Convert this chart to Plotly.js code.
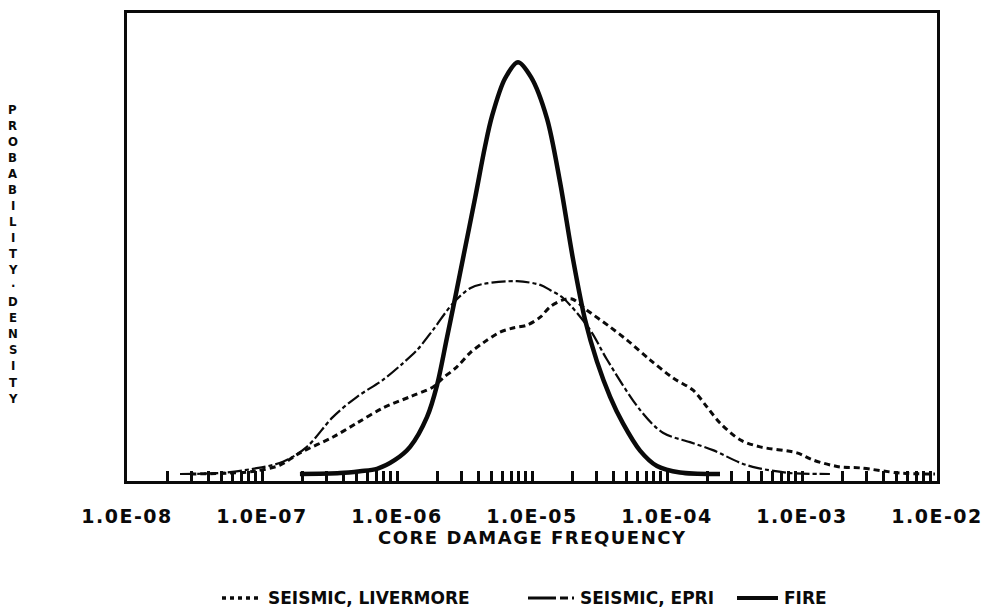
<!DOCTYPE html>
<html>
<head>
<meta charset="utf-8">
<script src="https://cdn.plot.ly/plotly-3.0.1.min.js"></script>
<style>
  html, body { margin: 0; padding: 0; background: #fff; }
  #chart { width: 990px; height: 616px; }
</style>
</head>
<body>
<div id="chart"></div>
<script>
// ---- data ----
const decades = [1e-8, 1e-7, 1e-6, 1e-5, 1e-4, 1e-3, 1e-2];
const decadeLabels = ['1.0E-08', '1.0E-07', '1.0E-06', '1.0E-05', '1.0E-04', '1.0E-03', '1.0E-02'];
const minorMultipliers = [2, 3, 4, 5, 6, 7, 8, 9];

const seriesNames = ['SEISMIC, LIVERMORE', 'SEISMIC, EPRI', 'FIRE'];

const livermoreX = [2.93e-8, 5.79e-8, 8.87e-8, 1.36e-7, 1.91e-7, 3.36e-7, 5.06e-7, 7.87e-7, 1.25e-6, 1.85e-6,
  2.19e-6, 2.78e-6, 3.48e-6, 4.34e-6, 5.79e-6, 7.23e-6, 9.18e-6, 1.15e-5, 1.36e-5, 1.70e-5,
  1.98e-5, 2.55e-5, 3.79e-5, 5.06e-5, 7.48e-5, 1.11e-4, 1.56e-4, 1.98e-4, 2.47e-4, 3.48e-4,
  4.89e-4, 9.18e-4, 1.20e-3, 1.91e-3, 2.69e-3, 5.32e-3, 9.66e-3];
const livermoreY = [0, 0.002, 0.006, 0.019, 0.045, 0.079, 0.109, 0.141, 0.165, 0.186,
  0.205, 0.229, 0.259, 0.280, 0.303, 0.312, 0.318, 0.335, 0.357, 0.372,
  0.374, 0.350, 0.314, 0.286, 0.244, 0.205, 0.179, 0.143, 0.109, 0.073,
  0.058, 0.045, 0.030, 0.015, 0.013, 0.002, 0];

const epriX = [2.47e-8, 4.89e-8, 8.57e-8, 1.43e-7, 2.15e-7, 3.36e-7, 5.06e-7, 7.87e-7, 1.11e-6, 1.41e-6,
  1.85e-6, 2.60e-6, 3.48e-6, 4.34e-6, 7.74e-6, 1.15e-5, 1.36e-5, 1.70e-5, 2.69e-5, 3.60e-5,
  6.31e-5, 9.33e-5, 1.48e-4, 2.19e-4, 3.48e-4, 4.64e-4, 8.15e-4, 1.61e-3];
const epriY = [0, 0.002, 0.011, 0.026, 0.058, 0.122, 0.165, 0.201, 0.237, 0.265,
  0.308, 0.365, 0.397, 0.406, 0.412, 0.404, 0.393, 0.376, 0.308, 0.244,
  0.137, 0.088, 0.068, 0.051, 0.024, 0.013, 0.002, 0];

const fireX = [1.91e-7, 3.79e-7, 5.32e-7, 7.11e-7, 9.66e-7, 1.25e-6, 1.67e-6, 1.98e-6, 2.34e-6, 2.69e-6,
  3.08e-6, 3.79e-6, 4.49e-6, 5.06e-6, 6.31e-6, 7.87e-6, 9.84e-6, 1.29e-5, 1.61e-5, 2.01e-5,
  2.47e-5, 3.03e-5, 3.79e-5, 4.72e-5, 6.31e-5, 8.43e-5, 1.25e-4, 2.47e-4];
const fireY = [0, 0.002, 0.006, 0.011, 0.030, 0.058, 0.122, 0.190, 0.290, 0.375,
  0.460, 0.590, 0.700, 0.765, 0.845, 0.880, 0.848, 0.760, 0.625, 0.460,
  0.330, 0.240, 0.165, 0.108, 0.050, 0.017, 0.003, 0];

const yTitle = 'PROBABILITY·DENSITY';
const xTitle = 'CORE DAMAGE FREQUENCY';

// ---- build ticks ----
const SPACED = t => '<span style="letter-spacing:1.5px">' + t + '</span>';
const tickVals = [];
const tickText = [];
decades.forEach((d, i) => {
  tickVals.push(d); tickText.push(SPACED(decadeLabels[i]));
  if (i < decades.length - 1) {
    minorMultipliers.forEach(m => { tickVals.push(m * d); tickText.push(''); });
  }
});

const FONT = 'DejaVu Sans, Liberation Sans, Arial, sans-serif';
const INK = '#0a0a0a';

const lineStyles = [
  { color: INK, width: 3, dash: '6px,4px' },
  { color: INK, width: 2.2, dash: '14px,3px,4px,3px' },
  { color: INK, width: 4.5 }
];
const xs = [livermoreX, epriX, fireX];
const ys = [livermoreY, epriY, fireY];

const traces = xs.map((x, i) => ({
  x: x, y: ys[i], name: seriesNames[i], type: 'scatter', mode: 'lines',
  line: Object.assign({ shape: 'spline', smoothing: 0.9 }, lineStyles[i]),
  showlegend: false
}));

// pixel helpers for layout placement (plot area 127..937 x 13..481)
const PL = 127, PW = 810, PT = 13, PH = 468;
const px2x = p => (p - PL) / PW;
const px2y = p => (PT + PH - p) / PH;

const annotations = [];
const shapes = [];

// stacked y title letters
Array.from(yTitle).forEach((c, i) => {
  annotations.push({
    text: c, xref: 'paper', yref: 'paper', x: px2x(13), y: px2y(109 + i * 16.06),
    xanchor: 'center', yanchor: 'middle', showarrow: false,
    font: { family: 'DejaVu Sans Condensed, Liberation Sans Narrow, DejaVu Sans, sans-serif', size: 13, weight: 'bold', color: INK }
  });
});

// x title
annotations.push({
  text: SPACED(xTitle), xref: 'paper', yref: 'paper', x: px2x(532), y: px2y(537),
  xanchor: 'center', yanchor: 'middle', showarrow: false,
  font: { family: FONT, size: 18, weight: 'bold', color: INK }
});

// legend (custom, below the chart)
const legendY = 598;
const legendSamples = [[222, 262], [528, 574], [737, 778]];
const legendDash = ['4px,4px', '28px,4px,8px,4px', 'solid'];
const legendWidth = [3.5, 3, 4];
seriesNames.forEach((name, i) => {
  shapes.push({
    type: 'line', xref: 'paper', yref: 'paper',
    x0: px2x(legendSamples[i][0]), x1: px2x(legendSamples[i][1]), y0: px2y(legendY), y1: px2y(legendY),
    line: { color: INK, width: legendWidth[i], dash: legendDash[i] }
  });
  annotations.push({
    text: name, xref: 'paper', yref: 'paper', x: px2x(legendSamples[i][1] + 4), y: px2y(legendY),
    xanchor: 'left', yanchor: 'middle', showarrow: false,
    font: { family: FONT, size: 17, weight: 'bold', color: INK }
  });
});

const layout = {
  width: 990, height: 616,
  margin: { l: PL, r: 990 - PL - PW, t: PT, b: 616 - PT - PH },
  paper_bgcolor: '#fff', plot_bgcolor: '#fff',
  showlegend: false,
  xaxis: {
    type: 'log', range: [-8, -2],
    tickmode: 'array', tickvals: tickVals, ticktext: tickText,
    ticks: 'inside', ticklen: 10, tickwidth: 3, tickcolor: INK,
    ticklabelstandoff: 16,
    tickfont: { family: FONT, size: 19, weight: 'bold', color: INK },
    showline: true, linecolor: INK, linewidth: 3, mirror: true,
    showgrid: false, zeroline: false
  },
  yaxis: {
    range: [-0.015, 0.985],
    showticklabels: false, ticks: '',
    showline: true, linecolor: INK, linewidth: 3, mirror: true,
    showgrid: false, zeroline: false
  },
  annotations: annotations,
  shapes: shapes
};

Plotly.newPlot('chart', traces, layout, { displayModeBar: false, staticPlot: true });
</script>
</body>
</html>
